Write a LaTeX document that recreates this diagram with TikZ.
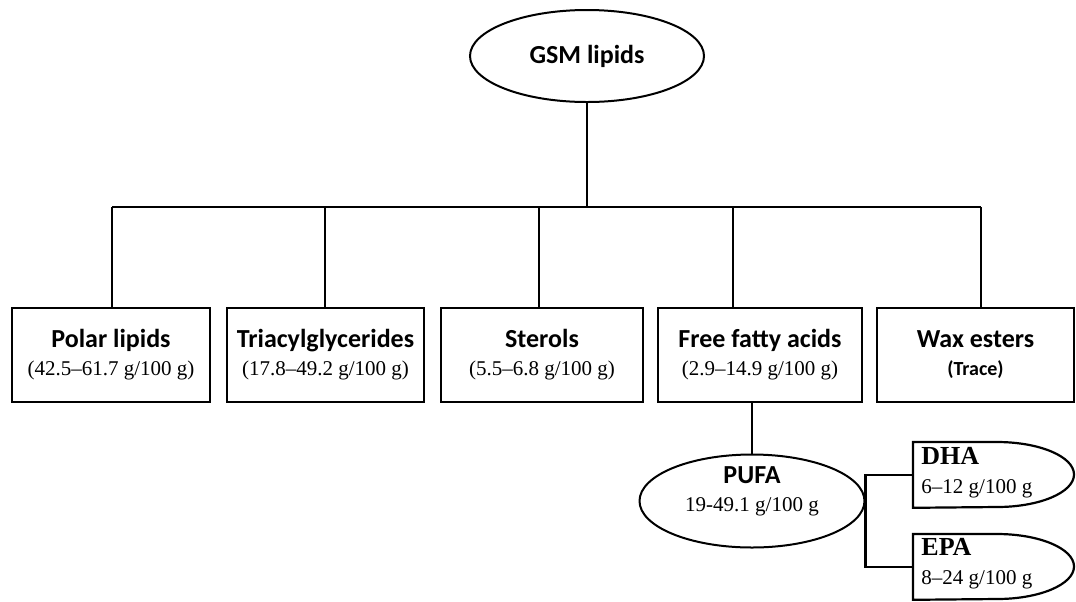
\documentclass[tikz,border=0pt]{standalone}
\usepackage{fontspec}
\setmainfont{Carlito}
\newfontfamily\serifnum{Liberation Serif}
\usepackage{tikz}
\usetikzlibrary{positioning,calc,shapes.geometric}

\newcommand{\ttl}[1]{{\fontsize{13}{15}\selectfont\bfseries #1}}
\newcommand{\rng}[1]{{\serifnum\fontsize{10.5}{14}\selectfont #1}}
\newcommand{\acid}[1]{{\serifnum\bfseries\fontsize{13}{15}\selectfont #1}}

\begin{document}
\begin{tikzpicture}[x=0.5pt, y=-0.5pt, every node/.style={font=\fontsize{10.5}{14}\selectfont}]
            \tikzstyle{box}=[rectangle, draw, line width=1.4pt, minimum height=47pt, inner sep=0pt, align=center]
            \tikzstyle{oval}=[ellipse, draw, line width=1pt, inner sep=0pt]
            \tikzstyle{dnode}=[rectangle, inner sep=0pt, minimum height=32.5pt, anchor=north west]
            \tikzstyle{link}=[line width=1.1pt]
            \useasboundingbox (0,0) rectangle (1076,601);
            % top of the tree
            \node[oval, minimum width=117pt, minimum height=46pt] (gsm) at (587,56) {\ttl{GSM lipids}};
            % lipid classes
            \node[box, minimum width=99pt] (polar) at (111,355) {\ttl{Polar lipids}\\\rng{(42.5–61.7 g/100 g)}};
            \node[box, minimum width=98.5pt] (tag) at (325.5,355) {\ttl{Triacylglycerides}\\\rng{(17.8–49.2 g/100 g)}};
            \node[box, minimum width=101pt] (sterols) at (542,355) {\ttl{Sterols}\\\rng{(5.5–6.8 g/100 g)}};
            \node[box, minimum width=102pt] (ffa) at (760,355) {\ttl{Free fatty acids}\\\rng{(2.9–14.9 g/100 g)}};
            \node[box, minimum width=98.5pt] (wax) at (975.5,355) {\ttl{Wax esters}\\{\fontsize{10}{14}\selectfont\bfseries (Trace)}};
            \coordinate (busL) at (112,207);
            \coordinate (busR) at (981,207);
            \draw[link] (gsm.south) -- (gsm.south |- busL);
            \draw[link] (busL) -- (busR);
            \foreach \n/\x in {polar/112, tag/325, sterols/539, ffa/733, wax/981}
                \draw[link] (busL -| \x,0) -- (\n.north -| \x,0);
            % fatty acids
            \node[oval, minimum width=112.5pt, minimum height=46.5pt] (pufa) at (752,501) {};
            \node[align=center] (pufatxt) at (752,491) {\ttl{PUFA}\\\rng{19-49.1 g/100 g}};
            \draw[link] (pufa.north |- ffa.south) -- (pufa.north);
            \node[dnode, minimum width=80.5pt] (dha) at (913,442) {};
            \node[dnode, minimum width=80.5pt] (epa) at (913,534) {};
            \draw[line width=1.1pt] (dha.north west) -- ++(84,0) arc[start angle=90, end angle=-90, x radius=38.5pt, y radius=16.25pt] -- (dha.south west) -- cycle;
            \draw[line width=1.1pt] (epa.north west) -- ++(84,0) arc[start angle=90, end angle=-90, x radius=38.5pt, y radius=16.25pt] -- (epa.south west) -- cycle;
            \node[align=left, anchor=west, inner sep=0pt, font=\fontsize{10.5}{14.5}\selectfont] (dhatxt) at (921,473) {\acid{DHA}\\\rng{6–12 g/100 g}};
            \node[align=left, anchor=west, inner sep=0pt, font=\fontsize{10.5}{14.5}\selectfont] (epatxt) at (921,564) {\acid{EPA}\\\rng{8–24 g/100 g}};
            \draw[link] (dha.west) -| (pufa.east);
            \draw[link] (epa.west) -| (pufa.east);
        \end{tikzpicture}
\end{document}
